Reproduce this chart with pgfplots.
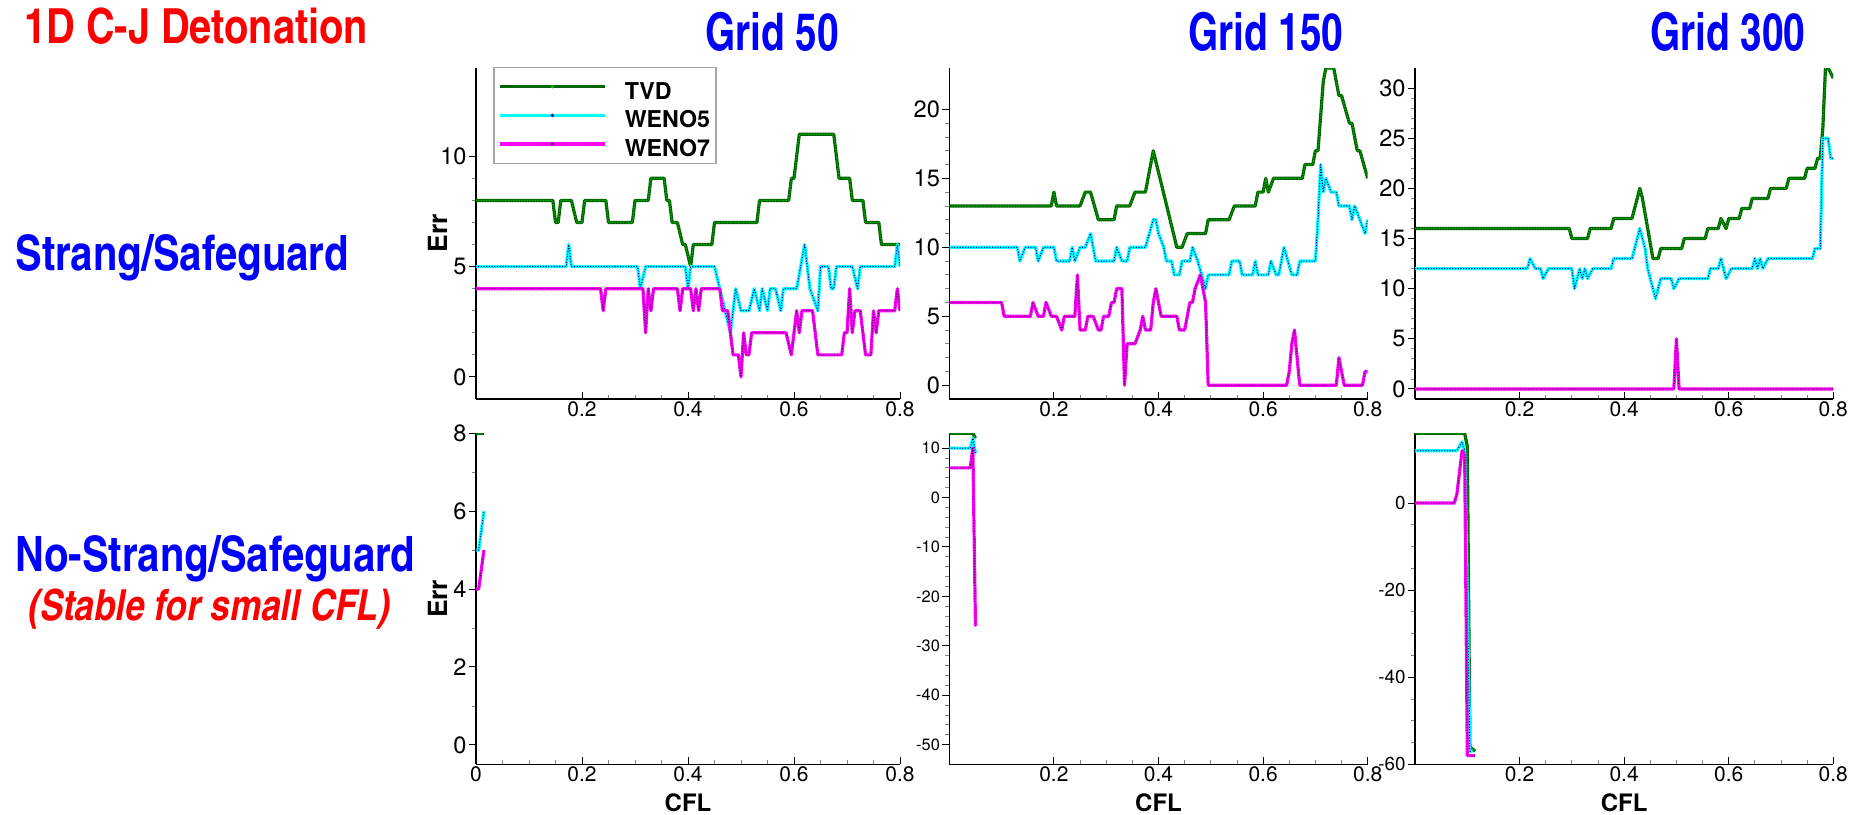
\documentclass[border=0pt]{standalone}
\usepackage{fontspec}
\setmainfont{TeX Gyre Heros}
\newfontfamily\cnfont{texgyreheroscn}[Extension=.otf, UprightFont=*-regular, BoldFont=*-bold, ItalicFont=*-italic, BoldItalicFont=*-bolditalic]
\usepackage{pgfplots}
\pgfplotsset{compat=1.18}

\definecolor{tvdcol}{RGB}{0,100,0}
\definecolor{tvddot}{RGB}{0,200,0}
\definecolor{wfivecol}{RGB}{0,255,255}
\definecolor{wfivedot}{RGB}{0,0,170}
\definecolor{wsevcol}{RGB}{255,0,255}
\definecolor{wsevdot}{RGB}{90,0,90}

\newcommand{\legfont}{\bfseries\fontsize{11.6}{12}\selectfont}

\pgfplotsset{
  cjpanel/.style={
    scale only axis, height=165.5pt,
    axis lines=left, axis line style={-, line width=0.7pt, black},
    xmin=0, xmax=0.8, xtick={0.2,0.4,0.6,0.8}, minor x tick num=3,
    xtick align=inside, ytick align=outside,
    major tick length=3.5pt, minor tick length=2pt,
    major tick style={black, line width=0.5pt},
    minor tick style={gray, line width=0.4pt},
    /pgf/number format/assume math mode=true,
    xticklabel style={font=\fontsize{10.5}{11}\selectfont, inner sep=1pt},
    yticklabel style={font=\fontsize{11.8}{12}\selectfont, inner sep=1pt},
    every axis y label/.style={at={(axis description cs:-0.09,0.5)}, rotate=90, anchor=center, inner sep=0pt, font=\bfseries\fontsize{13.2}{14}\selectfont},
    every axis x label/.style={at={(axis description cs:0.5,-0.0867)}, anchor=north, inner sep=0pt, font=\bfseries\fontsize{12}{13}\selectfont},
  },
  tvd/.style={draw=tvdcol, line width=1.6pt, line join=round,
    postaction={draw=tvddot, line width=0.7pt, dash pattern=on 0pt off 1.35pt, line cap=round}},
  wfive/.style={draw=wfivecol, line width=1.6pt, line join=round,
    postaction={draw=wfivedot, line width=0.7pt, dash pattern=on 0pt off 1.35pt, line cap=round}},
  wsev/.style={draw=wsevcol, line width=1.6pt, line join=round,
    postaction={draw=wsevdot, line width=0.7pt, dash pattern=on 0pt off 1.35pt, line cap=round}},
}

\begin{document}
\begin{tikzpicture}
\useasboundingbox (0pt,0pt) rectangle (931pt,-407pt);

% row and column headings
\node[anchor=base west, inner sep=0pt, text=red, font=\cnfont\bfseries\fontsize{24.2}{25}\selectfont] at (12pt,-21.65pt) {1D C-J Detonation};
\node[anchor=base, inner sep=0pt, text=blue, font=\cnfont\bfseries\fontsize{23.6}{24}\selectfont] at (386pt,-25pt) {\scalebox{1}[1.1]{Grid 50}};
\node[anchor=base, inner sep=0pt, text=blue, font=\cnfont\bfseries\fontsize{23.6}{24}\selectfont] at (633pt,-25pt) {\scalebox{1}[1.1]{Grid 150}};
\node[anchor=base, inner sep=0pt, text=blue, font=\cnfont\bfseries\fontsize{23.6}{24}\selectfont] at (864pt,-25pt) {\scalebox{1}[1.1]{Grid 300}};
\node[anchor=base west, inner sep=0pt, text=blue, font=\cnfont\bfseries\fontsize{24.4}{25}\selectfont] at (7.5pt,-135pt) {Strang/Safeguard};
\node[anchor=base west, inner sep=0pt, text=blue, font=\cnfont\bfseries\fontsize{24.4}{25}\selectfont] at (7.5pt,-285.85pt) {No-Strang/Safeguard};
\node[anchor=base west, inner sep=0pt, text=red, font=\cnfont\bfseries\itshape\fontsize{21.4}{22}\selectfont] at (14pt,-310pt) {(Stable for small CFL)};

% ---------------- Strang / Safeguard, grid 50
\begin{axis}[cjpanel, at={(238pt,-199.5pt)}, anchor=south west, width=212pt,
  ymin=-1, ymax=14, ytick={0,5,10}, minor y tick num=4, ylabel={Err},
  legend style={at={(axis description cs:0.041,1.004)}, anchor=north west,
    draw=gray!70, line width=0.6pt, fill=white, inner xsep=2pt, inner ysep=2.6pt,
    row sep=0pt, column sep=8pt,
    nodes={inner sep=1pt, text height=12.3pt, text depth=0pt}},
  legend cell align=left]
\addlegendimage{legend image code/.code={\draw[tvdcol, line width=1.6pt] (0pt,0pt) -- (52.8pt,0pt); \fill[tvddot] (26.4pt,0pt) circle (0.5pt);}}
\addlegendentry{\legfont TVD}
\addlegendimage{legend image code/.code={\draw[wfivecol, line width=1.6pt] (0pt,0pt) -- (52.8pt,0pt); \fill[wfivedot] (26.4pt,0pt) circle (0.5pt);}}
\addlegendentry{\legfont WENO5}
\addlegendimage{legend image code/.code={\draw[wsevcol, line width=1.6pt] (0pt,0pt) -- (52.8pt,0pt); \fill[wsevdot] (26.4pt,0pt) circle (0.5pt);}}
\addlegendentry{\legfont WENO7}
\addplot[tvd, forget plot] coordinates {(0,8)(0.145,8)(0.15,7)(0.155,7)(0.16,8)(0.18,8)(0.19,7)(0.2,7)(0.205,8)(0.245,8)(0.25,7)(0.295,7)(0.3,8)(0.325,8)(0.33,9)(0.355,9)(0.36,8)(0.365,8)(0.37,7)(0.38,7)(0.39,6)(0.395,6)(0.405,5)(0.41,6)(0.445,6)(0.45,7)(0.53,7)(0.535,8)(0.59,8)(0.595,9)(0.6,9)(0.61,11)(0.675,11)(0.68,10)(0.685,9)(0.705,9)(0.71,8)(0.73,8)(0.735,7)(0.76,7)(0.765,6)(0.8,6)};
\addplot[wfive, forget plot] coordinates {(0,5)(0.17,5)(0.175,6)(0.18,5)(0.305,5)(0.31,4)(0.32,5)(0.395,5)(0.4,4)(0.405,5)(0.45,5)(0.46,4)(0.48,2)(0.49,4)(0.5,3)(0.515,3)(0.525,4)(0.535,3)(0.54,4)(0.55,3)(0.555,4)(0.565,4)(0.575,3)(0.58,4)(0.605,4)(0.62,6)(0.63,4)(0.645,3)(0.65,5)(0.665,5)(0.67,4)(0.675,4)(0.68,5)(0.71,5)(0.72,4)(0.725,5)(0.79,5)(0.795,6)(0.8,5)};
\addplot[wsev, forget plot] coordinates {(0,4)(0.235,4)(0.24,3)(0.245,4)(0.315,4)(0.32,2)(0.325,4)(0.33,3)(0.335,4)(0.38,4)(0.385,3)(0.39,4)(0.405,4)(0.41,3)(0.415,4)(0.42,3)(0.425,4)(0.46,4)(0.465,3)(0.475,3)(0.48,2)(0.485,1)(0.495,1)(0.5,0)(0.505,2)(0.51,1)(0.515,1)(0.52,2)(0.585,2)(0.595,1)(0.6,2)(0.605,3)(0.61,2)(0.615,3)(0.635,3)(0.64,2)(0.645,1)(0.69,1)(0.695,2)(0.7,2)(0.705,4)(0.71,2)(0.715,3)(0.725,3)(0.73,2)(0.735,1)(0.745,1)(0.75,3)(0.755,2)(0.76,3)(0.79,3)(0.795,4)(0.8,3)};
\end{axis}

% ---------------- Strang / Safeguard, grid 150
\begin{axis}[cjpanel, at={(474.65pt,-199.5pt)}, anchor=south west, width=209.2pt,
  ymin=-1, ymax=23, ytick={0,5,10,15,20}, minor y tick num=4]
\addplot[tvd] coordinates {(0,13)(0.195,13)(0.2,14)(0.205,13)(0.25,13)(0.26,14)(0.27,14)(0.285,12)(0.315,12)(0.32,13)(0.345,13)(0.355,14)(0.375,14)(0.38,15)(0.39,17)(0.435,10)(0.445,10)(0.455,11)(0.49,11)(0.495,12)(0.535,12)(0.545,13)(0.585,13)(0.59,14)(0.6,14)(0.605,15)(0.61,14)(0.62,15)(0.675,15)(0.68,16)(0.695,16)(0.7,17)(0.705,17)(0.715,22)(0.72,23)(0.735,23)(0.745,21)(0.75,21)(0.765,19)(0.77,19)(0.78,17)(0.785,17)(0.8,15)};
\addplot[wfive] coordinates {(0,10)(0.13,10)(0.135,9)(0.145,10)(0.165,10)(0.17,9)(0.18,10)(0.2,10)(0.205,9)(0.23,9)(0.235,10)(0.24,9)(0.25,10)(0.26,10)(0.27,11)(0.28,9)(0.315,9)(0.32,10)(0.33,9)(0.34,9)(0.345,10)(0.375,10)(0.39,12)(0.395,12)(0.4,11)(0.41,10)(0.415,9)(0.425,9)(0.43,8)(0.44,8)(0.445,9)(0.46,9)(0.465,10)(0.475,9)(0.49,7)(0.495,8)(0.535,8)(0.54,9)(0.555,9)(0.56,8)(0.58,8)(0.585,9)(0.59,8)(0.61,8)(0.615,9)(0.625,8)(0.63,8)(0.64,10)(0.655,8)(0.665,8)(0.67,9)(0.7,9)(0.705,12)(0.71,16)(0.715,14)(0.72,15)(0.73,14)(0.74,14)(0.745,13)(0.765,13)(0.77,12)(0.775,13)(0.785,12)(0.795,11)(0.8,12)};
\addplot[wsev] coordinates {(0,6)(0.1,6)(0.105,5)(0.155,5)(0.16,6)(0.17,5)(0.18,5)(0.185,6)(0.195,5)(0.205,5)(0.215,4)(0.22,5)(0.24,5)(0.245,8)(0.25,4)(0.26,4)(0.265,5)(0.275,5)(0.285,4)(0.29,4)(0.295,5)(0.305,5)(0.31,6)(0.315,6)(0.32,7)(0.33,7)(0.335,0)(0.34,3)(0.355,3)(0.365,4)(0.37,5)(0.375,4)(0.385,4)(0.39,6)(0.395,7)(0.405,5)(0.435,5)(0.44,4)(0.45,4)(0.455,5)(0.46,6)(0.465,6)(0.47,7)(0.48,8)(0.485,7)(0.49,6)(0.495,0)(0.645,0)(0.65,1)(0.655,3)(0.66,4)(0.67,0)(0.74,0)(0.745,2)(0.75,1)(0.755,0)(0.79,0)(0.795,1)(0.8,1)};
\end{axis}

% ---------------- Strang / Safeguard, grid 300
\begin{axis}[cjpanel, at={(707.5pt,-199.5pt)}, anchor=south west, width=209.15pt,
  ymin=-1, ymax=32, ytick={0,5,10,15,20,25,30}, minor y tick num=4]
\addplot[tvd] coordinates {(0,16)(0.295,16)(0.3,15)(0.33,15)(0.335,16)(0.375,16)(0.38,17)(0.415,17)(0.42,18)(0.43,20)(0.435,19)(0.455,13)(0.465,13)(0.47,14)(0.51,14)(0.515,15)(0.555,15)(0.56,16)(0.58,16)(0.585,17)(0.595,16)(0.6,17)(0.62,17)(0.625,18)(0.64,18)(0.645,19)(0.675,19)(0.68,20)(0.71,20)(0.715,21)(0.745,21)(0.75,22)(0.765,22)(0.77,23)(0.775,23)(0.78,26)(0.785,32)(0.79,32)(0.8,31)};
\addplot[wfive] coordinates {(0,12)(0.215,12)(0.22,13)(0.23,12)(0.24,12)(0.245,11)(0.255,12)(0.3,12)(0.305,10)(0.315,12)(0.32,11)(0.325,12)(0.33,11)(0.34,12)(0.375,12)(0.38,13)(0.415,13)(0.42,14)(0.43,16)(0.435,15)(0.44,14)(0.445,12)(0.45,11)(0.46,9)(0.465,10)(0.47,11)(0.49,11)(0.495,10)(0.505,11)(0.56,11)(0.565,12)(0.58,12)(0.585,13)(0.59,12)(0.595,11)(0.605,12)(0.645,12)(0.65,13)(0.655,12)(0.66,13)(0.665,12)(0.675,13)(0.76,13)(0.765,14)(0.775,14)(0.78,25)(0.79,25)(0.795,23)(0.8,23)};
\addplot[wsev] coordinates {(0,0)(0.495,0)(0.5,5)(0.505,0)(0.8,0)};
\end{axis}

% ---------------- No-Strang / Safeguard, grid 50
\begin{axis}[cjpanel, at={(238pt,-382.15pt)}, anchor=south west, width=212pt,
  ymin=-0.5, ymax=8, ytick={0,2,4,6,8}, minor y tick num=1,
  xtick={0,0.2,0.4,0.6,0.8}, ylabel={Err}, xlabel={CFL}]
\addplot[tvd] coordinates {(0,8)(0.005,8)(0.015,8)};
\addplot[wfive] coordinates {(0,5)(0.005,5)(0.015,6)};
\addplot[wsev] coordinates {(0,4)(0.005,4)(0.015,5)};
\end{axis}

% ---------------- No-Strang / Safeguard, grid 150
\begin{axis}[cjpanel, at={(474.65pt,-382.15pt)}, anchor=south west, width=209.2pt,
  ymin=-54, ymax=13, ytick={-50,-40,-30,-20,-10,0,10}, minor y tick num=4,
  yticklabel style={font=\fontsize{8.2}{9}\selectfont}, xlabel={CFL}]
\addplot[tvd] coordinates {(0,13)(0.045,13)(0.05,12)};
\addplot[wfive] coordinates {(0,10)(0.04,10)(0.045,12)(0.05,9)};
\addplot[wsev] coordinates {(0,6)(0.04,6)(0.045,10)(0.05,-26)};
\end{axis}

% ---------------- No-Strang / Safeguard, grid 300
\begin{axis}[cjpanel, at={(707.5pt,-382.15pt)}, anchor=south west, width=209.15pt,
  ymin=-60, ymax=16, ytick={-60,-40,-20,0}, minor y tick num=3,
  yticklabel style={font=\fontsize{9.4}{10}\selectfont}, xlabel={CFL}]
\addplot[tvd] coordinates {(0,16)(0.095,16)(0.1,13)(0.105,-56)(0.115,-57)};
\addplot[wfive] coordinates {(0,12)(0.08,12)(0.085,13)(0.09,14)(0.095,12)(0.105,-57)(0.11,-57)};
\addplot[wsev] coordinates {(0,0)(0.075,0)(0.08,2)(0.09,12)(0.095,11)(0.1,-58)(0.115,-58)};
\end{axis}
\end{tikzpicture}
\end{document}
